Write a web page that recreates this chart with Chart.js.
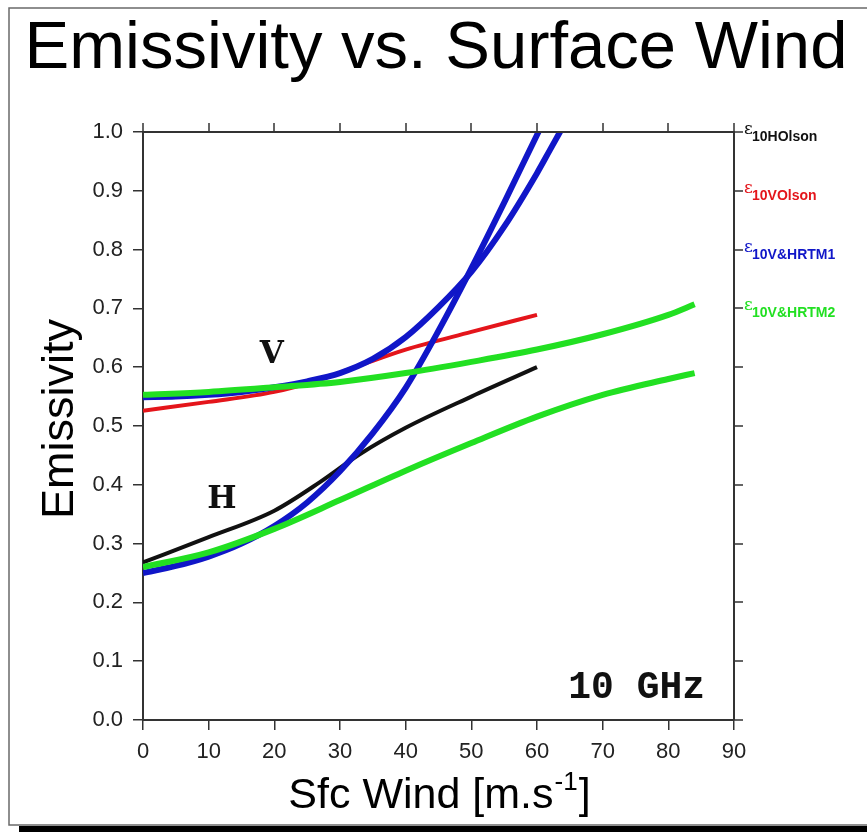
<!DOCTYPE html>
<html>
<head>
<meta charset="utf-8">
<script src="https://cdn.jsdelivr.net/npm/chart.js@4"></script>
<style>
  html, body { margin: 0; padding: 0; background: #fff; }
  #wrap { width: 867px; height: 832px; }
</style>
</head>
<body>
<div id="wrap"><canvas id="c" width="867" height="832"></canvas></div>
<script>
// wind speed (m/s) and emissivity
const olsonWind = [0, 10, 20, 27, 33, 40, 50, 60]
const olsonH = [0.268, 0.311, 0.356, 0.405, 0.452, 0.497, 0.55, 0.60]
const olsonV = [0.526, 0.541, 0.558, 0.579, 0.603, 0.630, 0.660, 0.689]

const rtm1Wind = [0, 5, 10, 15, 20, 25, 30, 35, 40, 45, 50, 55, 60, 62, 65]
const rtm1H = [0.25, 0.262, 0.278, 0.30, 0.33, 0.37, 0.423, 0.488, 0.565, 0.662, 0.768, 0.88, 0.995, 1.04, 1.1]
const rtm1V = [0.549, 0.550, 0.553, 0.558, 0.566, 0.576, 0.59, 0.614, 0.651, 0.702, 0.762, 0.839, 0.93, 0.97, 1.03]

const rtm2Wind = [0, 10, 20, 30, 40, 50, 60, 70, 80, 84]
const rtm2H = [0.26, 0.285, 0.325, 0.374, 0.424, 0.471, 0.516, 0.553, 0.58, 0.59]
const rtm2V = [0.553, 0.558, 0.566, 0.575, 0.59, 0.609, 0.63, 0.656, 0.689, 0.707]

const xTicks = [0, 10, 20, 30, 40, 50, 60, 70, 80, 90]
const yTicks = [0, 0.1, 0.2, 0.3, 0.4, 0.5, 0.6, 0.7, 0.8, 0.9, 1.0]

const legendRows = [
  { value: 1.0, sub: '10HOlson', color: '#111111' },
  { value: 0.9, sub: '10VOlson', color: '#e4151b' },
  { value: 0.8, sub: '10V&HRTM1', color: '#1016c8' },
  { value: 0.7, sub: '10V&HRTM2', color: '#22e022' },
]

const labels = [
  { text: 'V', x: 19.6, y: 0.621 },
  { text: 'H', x: 12.0, y: 0.374 },
]
const bandLabel = { text: '10 GHz', x: 85.6, y: 0.054 }

const BLACK = '#111111'
const RED = '#e4151b'
const BLUE = '#1016c8'
const GREEN = '#22e022'

function pts(xs, ys) {
  return xs.map((x, i) => ({ x, y: ys[i] }))
}

function line(data, color, width) {
  return {
    data,
    borderColor: color,
    backgroundColor: color,
    borderWidth: width,
    pointRadius: 0,
    cubicInterpolationMode: 'monotone',
    fill: false,
  }
}

const decor = {
  id: 'decor',
  beforeDraw(chart) {
    const ctx = chart.ctx
    ctx.save()
    ctx.fillStyle = '#fff'
    ctx.fillRect(0, 0, chart.width, chart.height)
    // frame with drop shadow
    ctx.fillStyle = '#000'
    ctx.fillRect(19, 826, 867, 8)
    ctx.strokeStyle = '#6a6a6a'
    ctx.lineWidth = 1.5
    ctx.strokeRect(9, 8, 900, 817)
    ctx.restore()
  },
  afterDraw(chart) {
    const ctx = chart.ctx
    const xs = chart.scales.x
    const ys = chart.scales.y
    const area = chart.chartArea
    ctx.save()

    // top and right frame with outward ticks
    ctx.strokeStyle = '#333'
    ctx.lineWidth = 2
    ctx.beginPath()
    ctx.moveTo(area.left, area.top)
    ctx.lineTo(area.right, area.top)
    ctx.lineTo(area.right, area.bottom)
    ctx.stroke()
    ctx.lineWidth = 1.5
    ctx.beginPath()
    xTicks.forEach(v => {
      const px = Math.round(xs.getPixelForValue(v))
      ctx.moveTo(px, area.top)
      ctx.lineTo(px, area.top - 9)
    })
    yTicks.forEach(v => {
      const py = Math.round(ys.getPixelForValue(v))
      ctx.moveTo(area.right, py)
      ctx.lineTo(area.right + 9, py)
    })
    ctx.stroke()

    // title
    ctx.fillStyle = '#000'
    ctx.textAlign = 'center'
    ctx.textBaseline = 'alphabetic'
    ctx.font = '67px "Liberation Sans", Arial, sans-serif'
    ctx.fillText('Emissivity vs. Surface Wind', 436, 68)

    // y axis title
    ctx.save()
    ctx.translate(73, 419)
    ctx.rotate(-Math.PI / 2)
    ctx.font = '45px "Liberation Sans", Arial, sans-serif'
    ctx.fillText('Emissivity', 0, 0)
    ctx.restore()

    // x axis title with superscript
    const main = 'Sfc Wind [m.s'
    const sup = '-1'
    const end = ']'
    ctx.font = '43px "Liberation Sans", Arial, sans-serif'
    const wMain = ctx.measureText(main).width
    const wEnd = ctx.measureText(end).width
    ctx.font = '26px "Liberation Sans", Arial, sans-serif'
    const wSup = ctx.measureText(sup).width
    let x0 = (area.left + area.right) / 2 - (wMain + wSup + wEnd) / 2
    ctx.textAlign = 'left'
    ctx.font = '43px "Liberation Sans", Arial, sans-serif'
    ctx.fillText(main, x0, 808)
    ctx.font = '26px "Liberation Sans", Arial, sans-serif'
    ctx.fillText(sup, x0 + wMain + 1, 790)
    ctx.font = '43px "Liberation Sans", Arial, sans-serif'
    ctx.fillText(end, x0 + wMain + wSup + 2, 808)

    // legend at right
    legendRows.forEach(r => {
      const py = ys.getPixelForValue(r.value)
      ctx.fillStyle = r.color
      ctx.textAlign = 'left'
      ctx.font = '17px "DejaVu Serif", serif'
      ctx.fillText('\u03B5', 744, py + 2)
      ctx.font = 'bold 14px "Liberation Sans", Arial, sans-serif'
      ctx.fillText(r.sub, 752, py + 9)
    })

    // in-plot labels
    ctx.fillStyle = '#111'
    ctx.textBaseline = 'middle'
    ctx.textAlign = 'center'
    ctx.font = 'bold 31px "DejaVu Serif", "Liberation Serif", serif'
    labels.forEach(l => {
      ctx.fillText(l.text, xs.getPixelForValue(l.x), ys.getPixelForValue(l.y))
    })
    ctx.textAlign = 'right'
    ctx.font = 'bold 38px "Liberation Mono", "DejaVu Sans Mono", monospace'
    ctx.fillText(bandLabel.text, xs.getPixelForValue(bandLabel.x), ys.getPixelForValue(bandLabel.y))
    ctx.restore()
  },
}

const tickFont = { family: '"Liberation Sans", Arial, sans-serif', size: 22 }

new Chart(document.getElementById('c'), {
  type: 'line',
  data: {
    datasets: [
      line(pts(rtm2Wind, rtm2V), GREEN, 6),
      line(pts(rtm2Wind, rtm2H), GREEN, 6),
      line(pts(rtm1Wind, rtm1V), BLUE, 6),
      line(pts(rtm1Wind, rtm1H), BLUE, 6),
      line(pts(olsonWind, olsonV), RED, 4),
      line(pts(olsonWind, olsonH), BLACK, 4),
    ],
  },
  options: {
    responsive: false,
    animation: false,
    layout: { padding: { top: 132, right: 133, left: 0, bottom: 0 } },
    plugins: { legend: { display: false }, tooltip: { enabled: false }, title: { display: false } },
    scales: {
      x: {
        type: 'linear',
        min: 0,
        max: 90,
        afterFit: s => { s.height = 112 },
        afterBuildTicks: s => { s.ticks = xTicks.map(v => ({ value: v })) },
        grid: { drawOnChartArea: false, drawTicks: true, tickLength: 10, color: '#333', lineWidth: 1.5 },
        border: { display: true, color: '#333', width: 2 },
        ticks: { color: '#222', font: tickFont, padding: 9, maxRotation: 0 },
      },
      y: {
        type: 'linear',
        min: 0,
        max: 1,
        afterFit: s => { s.width = 143 },
        afterBuildTicks: s => { s.ticks = yTicks.map(v => ({ value: v })) },
        grid: { drawOnChartArea: false, drawTicks: true, tickLength: 10, color: '#333', lineWidth: 1.5 },
        border: { display: true, color: '#333', width: 2 },
        ticks: { color: '#222', font: tickFont, padding: 10, callback: v => v.toFixed(1) },
      },
    },
  },
  plugins: [decor],
})
</script>
</body>
</html>
